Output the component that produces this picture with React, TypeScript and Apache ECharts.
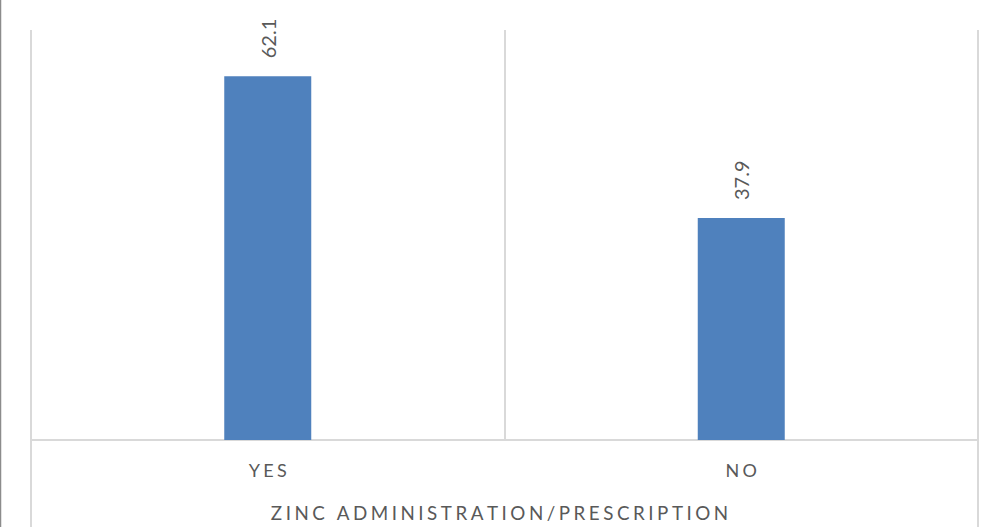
import React, { useEffect, useRef } from "react";
import * as echarts from "echarts";

const categories = ["YES", "NO"];
const values = [62.1, 37.9];
const axisTitle = "ZINC ADMINISTRATION/PRESCRIPTION";

const spaced = (s: string, sep: string) => s.split("").join(sep);

export default function App() {
  const ref = useRef<HTMLDivElement>(null);
  useEffect(() => {
    if (!ref.current) return;
    const chart = echarts.init(ref.current, undefined, { renderer: "svg" });
    chart.setOption({
      animation: false,
      textStyle: { fontFamily: "Lato, 'Liberation Sans', sans-serif" },
      grid: { left: 31, right: 22, top: 30, bottom: 81, containLabel: false },
      xAxis: {
        type: "category",
        data: categories,
        boundaryGap: true,
        axisLine: { show: true, lineStyle: { color: "#d9d9d9", width: 2 } },
        axisTick: {
          show: true,
          length: 120,
          interval: (i: number) => i === 0 || i >= categories.length,
          lineStyle: { color: "#d9d9d9", width: 2 },
        },
        splitLine: { show: true, interval: 0, lineStyle: { color: "#d9d9d9", width: 2 } },
        axisLabel: {
          color: "#595959",
          fontSize: 18,
          margin: 21,
          formatter: (v: string) => spaced(v, "\u2009\u200A"),
        },
        name: spaced(axisTitle, "\u2009\u200A"),
        nameLocation: "middle",
        nameGap: 63,
        nameTextStyle: { color: "#595959", fontSize: 18.8, padding: [0, 10, 0, 0] },
      },
      yAxis: {
        type: "value",
        min: 0,
        max: 70,
        show: false,
        splitLine: { show: false },
      },
      graphic: [
        {
          type: "line",
          shape: { x1: 0.5, y1: 0, x2: 0.5, y2: 540 },
          style: { stroke: "#8c8c8c", lineWidth: 1.5 },
        },
      ],
      series: [
        {
          type: "bar",
          data: values,
          barWidth: 87,
          itemStyle: { color: "#4f81bd" },
          label: {
            show: true,
            position: "top",
            rotate: 90,
            align: "left",
            verticalAlign: "middle",
            distance: 18,
            color: "#595959",
            fontSize: 20,
            formatter: (p: any) => p.value.toFixed(1),
          },
        },
      ],
    });
    return () => chart.dispose();
  }, []);
  return (
    <div
      ref={ref}
      style={{ position: "fixed", left: 0, top: 0, width: 1000, height: 527, overflow: "hidden", background: "#fff" }}
    />
  );
}
